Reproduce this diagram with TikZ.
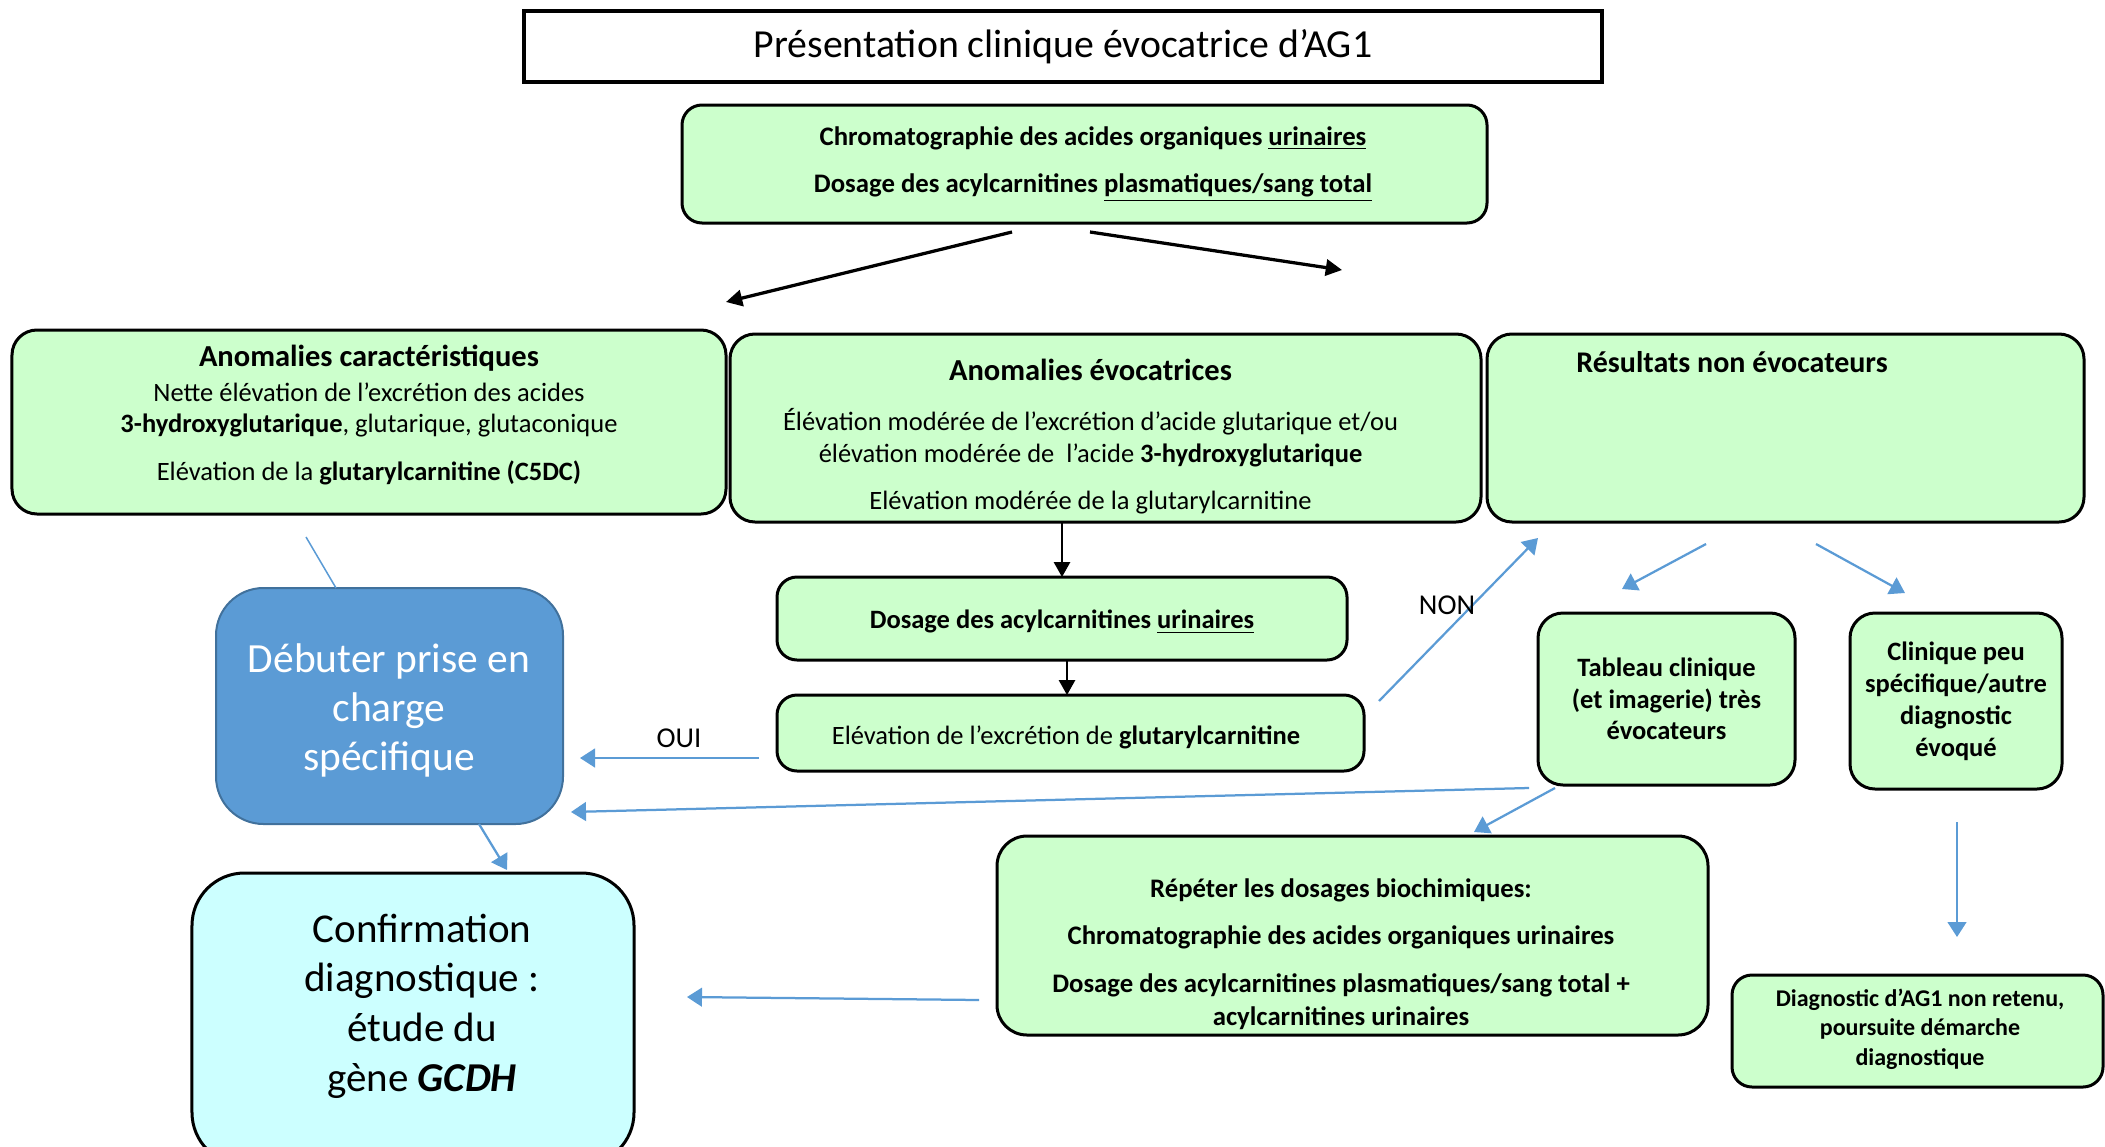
\documentclass[tikz,border=0pt]{standalone}
\usepackage{fontspec}
\setmainfont{Carlito}
\usetikzlibrary{arrows.meta,calc}
\definecolor{boxgreen}{HTML}{CCFFCC}
\definecolor{boxcyan}{HTML}{CCFFFF}
\definecolor{boxblue}{HTML}{5B9BD5}
\definecolor{boxblueborder}{HTML}{41719C}
\definecolor{arrblue}{HTML}{5B9BD5}
\newcommand{\fsz}[2]{\fontsize{#1}{#2}\selectfont}
\begin{document}
\begin{tikzpicture}[x=0.4pt,y=-0.4pt,
  gbox/.style={draw=black, line width=1.2pt, fill=boxgreen, rounded corners=8pt, align=center, inner sep=0pt},
  titlebox/.style={draw=black, line width=1.5pt, fill=white, align=center, inner sep=0pt},
  txt/.style={inner sep=0pt, align=center},
  bluearr/.style={draw=arrblue, line width=0.9pt, -{Triangle[length=6pt,width=7.5pt]}},
  blueline/.style={draw=arrblue, line width=0.6pt},
  blackarr/.style={draw=black, line width=1.3pt, -{Triangle[length=6.5pt,width=6.5pt]}},
  blackvarr/.style={draw=black, line width=0.9pt, -{Triangle[length=6pt,width=6.5pt]}},
  lbl/.style={inner sep=0pt, font=\fsz{11.5}{14}}
]
\useasboundingbox (0,0) rectangle (2105,1146);
\clip (0,0) rectangle (2105,1146);

% boxes
\node[titlebox, minimum width=431.2pt, minimum height=28.4pt, font=\fsz{15.9}{19}] (title) at (1063,46.5) {\raisebox{-1pt}{Présentation clinique évocatrice d’AG1}};

\node[gbox, minimum width=322pt, minimum height=47.2pt] (chrom) at (1084.5,164) {};
\node[txt, font=\fsz{10.7}{18.8}\bfseries] (chromt) at (1093,164)
  {Chromatographie des acides organiques \underline{urinaires}\\Dosage des acylcarnitines \underline{plasmatiques/sang total}};

\node[gbox, rounded corners=10pt, minimum width=285.6pt, minimum height=73.6pt] (ac) at (369,422) {};
\node[txt, font=\fsz{10.6}{12.4}] (act) at (369,415)
  {{\fsz{12.2}{14}\bfseries Anomalies caractéristiques}\\[1.6pt]
   Nette élévation de l’excrétion des acides\\
   \textbf{3-hydroxyglutarique}, glutarique, glutaconique\\[6.8pt]
   Elévation de la \textbf{glutarylcarnitine (C5DC)}};

\node[gbox, rounded corners=10pt, minimum width=300.4pt, minimum height=75.2pt] (ae) at (1105.5,428) {};
\node[txt, font=\fsz{10.6}{12.8}] (aet) at (1090.5,437)
  {{\fsz{12.2}{14}\bfseries Anomalies évocatrices}\\[7.2pt]
   Élévation modérée de l’excrétion d’acide glutarique et/ou\\
   élévation modérée de~ l’acide \textbf{3-hydroxyglutarique}\\[6pt]
   Elévation modérée de la glutarylcarnitine};

\node[gbox, rounded corners=10pt, minimum width=238.8pt, minimum height=75.2pt] (rne) at (1785.5,428) {};
\node[txt, font=\fsz{12}{14}\bfseries] (rnet) at (1732,362) {Résultats non évocateurs};

\node[gbox, minimum width=228pt, minimum height=33.2pt] (dos) at (1062,618.5) {};
\node[txt, font=\fsz{10.6}{12.5}\bfseries] (dost) at (1062,622)
  {Dosage des acylcarnitines \underline{urinaires}};

\node[gbox, minimum width=234.8pt, minimum height=30.4pt] (elev) at (1070.5,733) {};
\node[txt, font=\fsz{10.6}{12.5}] (elevt) at (1066,737)
  {Elévation de l'excrétion de \textbf{glutarylcarnitine}};

\node[gbox, rounded corners=10pt, minimum width=102.8pt, minimum height=68.8pt, font=\fsz{10.6}{12.6}\bfseries] (tab) at (1666.5,699)
  {Tableau clinique\\(et imagerie) très\\évocateurs};

\node[gbox, rounded corners=10pt, minimum width=84.8pt, minimum height=70.4pt, font=\fsz{10.6}{12.8}\bfseries] (cli) at (1956,701)
  {Clinique peu\\spécifique/autre\\diagnostic\\évoqué};

\node[gbox, minimum width=148.4pt, minimum height=44.8pt] (diag) at (1917.5,1031) {};
\node[txt, font=\fsz{9.6}{11.8}\bfseries] (diagt) at (1920,1029)
  {Diagnostic d’AG1 non retenu,\\poursuite démarche\\diagnostique};

\node[gbox, rounded corners=12pt, minimum width=284.4pt, minimum height=79.6pt] (rep) at (1352.5,935.5) {};
\node[txt, font=\fsz{10.7}{13.2}\bfseries] (rept) at (1341,954)
  {Répéter les dosages biochimiques:\\[5.6pt]
   Chromatographie des acides organiques urinaires\\[6pt]
   Dosage des acylcarnitines plasmatiques/sang total +\\
   acylcarnitines urinaires};

\node[draw=boxblueborder, line width=0.8pt, fill=boxblue, rounded corners=19pt, minimum width=138.8pt, minimum height=94.4pt] (deb) at (389.5,706) {};
\node[txt, text=white, font=\fsz{16.6}{19.6}] (debt) at (389,710)
  {Débuter prise en\\charge\\spécifique};

\node[draw=black, line width=1.2pt, fill=boxcyan, rounded corners=21pt, minimum width=176.8pt, minimum height=116.8pt] (conf) at (413,1019) {};
\node[txt, font=\fsz{16.4}{19.9}] (conft) at (422,1006)
  {Confirmation\\diagnostique :\\étude du\\gène \textbf{\textit{GCDH}}};

% connector end points
\coordinate (k1a) at (1012,232); \coordinate (k1b) at (726,302);
\coordinate (k2a) at (1090,232); \coordinate (k2b) at (1342,270);
\coordinate (k3a) at (1062,522); \coordinate (k3b) at (1062,577);
\coordinate (k4a) at (1067,660); \coordinate (k4b) at (1067,695);

\coordinate (b1a) at (306,537); \coordinate (b1b) at (336,588);
\coordinate (b2a) at (759,758); \coordinate (b2b) at (580,758);
\coordinate (b3a) at (1529,788); \coordinate (b3b) at (571,812);
\coordinate (b4a) at (479,824); \coordinate (b4b) at (507,870);
\coordinate (b5a) at (1555,788); \coordinate (b5b) at (1474,832);
\coordinate (b6a) at (1379,701); \coordinate (b6b) at (1538,538);
\coordinate (b7a) at (1706,544); \coordinate (b7b) at (1622,589);
\coordinate (b8a) at (1816,544); \coordinate (b8b) at (1905,593);
\coordinate (b9a) at (1957,822); \coordinate (b9b) at (1957,937);
\coordinate (b10a) at (979,1000); \coordinate (b10b) at (687,997);

% black arrows
\draw[blackarr] (k1a) -- (k1b);
\draw[blackarr] (k2a) -- (k2b);
\draw[blackvarr] (k3a) -- (k3b);
\draw[blackvarr] (k4a) -- (k4b);

% blue connectors
\draw[blueline] (b1a) -- (b1b);
\draw[bluearr] (b2a) -- (b2b);
\draw[bluearr] (b3a) -- (b3b);
\draw[bluearr] (b4a) -- (b4b);
\draw[bluearr] (b5a) -- (b5b);
\draw[bluearr] (b6a) -- (b6b);
\draw[bluearr] (b7a) -- (b7b);
\draw[bluearr] (b8a) -- (b8b);
\draw[bluearr] (b9a) -- (b9b);
\draw[bluearr] (b10a) -- (b10b);

% labels
\node[lbl] (non) at (1447,605) {NON};
\node[lbl] (oui) at (679,738) {OUI};
\end{tikzpicture}
\end{document}
